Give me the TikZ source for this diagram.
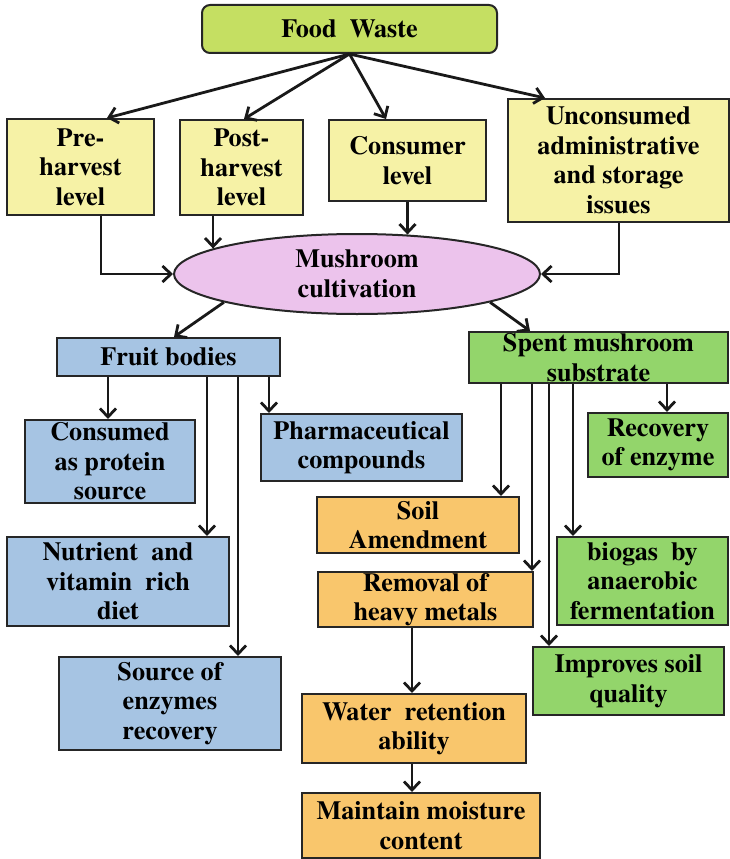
\documentclass[tikz,border=0pt]{standalone}
\usepackage{fontspec}
\newfontfamily\labelfont{texgyretermes}[Extension=.otf, UprightFont=*-bold, BoldFont=*-bold]
\usetikzlibrary{arrows.meta,shapes.geometric}

\definecolor{wastegreen}{HTML}{C5DF62}
\definecolor{levelyellow}{HTML}{F6F2A6}
\definecolor{mushpink}{HTML}{ECC3EC}
\definecolor{fruitblue}{HTML}{A6C4E3}
\definecolor{smsgreen}{HTML}{93D56B}
\definecolor{soilorange}{HTML}{F9C66C}

\begin{document}
\begin{tikzpicture}[x=1pt,y=-1pt,
  box/.style={draw=black!85, line width=2pt, inner sep=0pt, align=center,
    font=\labelfont\fontsize{26.2}{29.5}\selectfont},
  arr/.style={line width=2.8pt, draw=black!90,
    -{Straight Barb[length=8.5pt,width=16pt,line width=2.8pt]}},
  yellowbox/.style={box, fill=levelyellow},
  bluebox/.style={box, fill=fruitblue},
  greenbox/.style={box, fill=smsgreen},
  orangebox/.style={box, fill=soilorange}]
\useasboundingbox (0,0) rectangle (730,859);

% source and the four levels of loss
\node[box, fill=wastegreen, rounded corners=8pt, minimum width=295pt, minimum height=48pt]
  (fw) at (349.5,29) {Food\ \ Waste};
\node[yellowbox, minimum width=147pt, minimum height=96pt] (pre) at (80.5,167) {Pre-\\harvest\\level};
\node[yellowbox, minimum width=123pt, minimum height=95pt] (post) at (241.5,167.5) {Post-\\harvest\\level};
\node[yellowbox, minimum width=157pt, minimum height=81pt] (cons) at (407.5,160.5) {Consumer\\level};
\node[yellowbox, minimum width=221pt, minimum height=123pt] (unc) at (618.5,160.5)
  {Unconsumed\\administrative\\and storage\\issues};

% cultivation
\node[box, ellipse, fill=mushpink, minimum width=366pt, minimum height=80pt] (mush) at (357,274)
  {Mushroom\\cultivation};

% products
\node[bluebox, minimum width=223pt, minimum height=38pt] (fb) at (168.5,357) {Fruit bodies};
\node[greenbox, minimum width=259pt, minimum height=51pt] (sms) at (598.5,357.5) {Spent mushroom\\substrate};

% uses of fruit bodies
\node[bluebox, minimum width=170pt, minimum height=83pt] (cps) at (110,461.5) {Consumed\\as protein\\source};
\node[bluebox, minimum width=201pt, minimum height=67pt] (pha) at (361.5,447.5) {Pharmaceutical\\compounds};
\node[bluebox, minimum width=222pt, minimum height=89pt] (nut) at (118,581.5) {Nutrient\ \ and\\vitamin\ \ rich\\diet};
\node[bluebox, minimum width=222pt, minimum height=93pt] (src) at (170,703.5) {Source of\\enzymes\\recovery};

% uses of spent substrate
\node[greenbox, minimum width=140pt, minimum height=64pt] (rec) at (658,445) {Recovery\\of enzyme};
\node[orangebox, minimum width=202pt, minimum height=56pt] (soil) at (418,525) {Soil\\Amendment};
\node[orangebox, minimum width=215pt, minimum height=55pt] (rem) at (425.5,599.5) {Removal of\\heavy metals};
\node[greenbox, minimum width=171pt, minimum height=88pt] (bio) at (642.5,581) {biogas\ \ by\\anaerobic\\fermentation};
\node[greenbox, minimum width=191pt, minimum height=68pt] (imp) at (628.5,681) {Improves soil\\quality};
\node[orangebox, minimum width=224pt, minimum height=69pt] (wat) at (414,728.5) {Water\ \ retention\\ability};
\node[orangebox, minimum width=238pt, minimum height=65pt] (mmc) at (421,825.5) {Maintain moisture\\content};

% food waste to levels
\draw[arr] (fw.south) -- (pre.north -| 107,0);
\draw[arr] (fw.south) -- (post.north -| 244,0);
\draw[arr] (fw.south) -- (cons.north -| 386,0);
\draw[arr] (fw.south) -- (unc.north -| 545,0);

% levels to cultivation
\draw[arr] (pre.south -| 101,0) |- (mush.west);
\draw[arr] (post.south -| 213,0) -- (mush.170 -| 213,0);
\draw[arr] (cons.south) -- (mush.38 -| 407.5,0);
\draw[arr] (unc.south -| 619,0) |- (mush.east);

% cultivation to products
\draw[arr] (mush.192) -- (fb.north -| 174,0);
\draw[arr] (mush.-12) -- (sms.north -| 530,0);

% fruit bodies branches
\draw[arr] (fb.south -| 108,0) -- (cps.north -| 108,0);
\draw[arr] (fb.south -| 207,0) -- (nut.north -| 207,0);
\draw[arr] (fb.south -| 238,0) -- (src.north -| 238,0);
\draw[arr] (fb.south -| 269,0) -- (pha.north -| 269,0);

% spent substrate branches
\draw[arr] (sms.south -| 501,0) -- (soil.north -| 501,0);
\draw[arr] (sms.south -| 532,0) -- (rem.north -| 532,0);
\draw[arr] (sms.south -| 549,0) -- (imp.north -| 549,0);
\draw[arr] (sms.south -| 573,0) -- (bio.north -| 573,0);
\draw[arr] (sms.south -| 667,0) -- (rec.north -| 667,0);

% soil chain
\draw[arr] (rem.south -| 412,0) -- (wat.north -| 412,0);
\draw[arr] (wat.south -| 412,0) -- (mmc.north -| 412,0);
\end{tikzpicture}
\end{document}
